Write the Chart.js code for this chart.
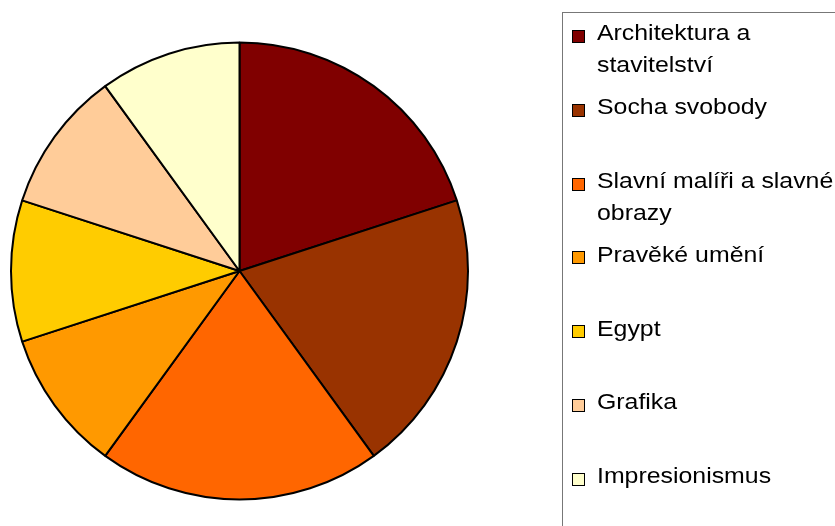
<!DOCTYPE html>
<html>
<head>
<meta charset="utf-8">
<script src="https://cdn.jsdelivr.net/npm/chart.js@4/dist/chart.umd.min.js"></script>
<style>
  html, body { margin: 0; padding: 0; background: #fff; }
  #wrap { position: relative; width: 835px; height: 526px; overflow: hidden; }
  #c { position: absolute; left: 0; top: 0; }
  #legend {
    position: absolute; left: 562px; top: 12px; width: 300px; height: 540px;
    border: 1px solid #777; box-sizing: border-box;
    font-family: "Liberation Sans", Arial, sans-serif; font-size: 22px; color: #000;
  }
  .item { position: absolute; left: 9px; width: 280px; line-height: 32px; }
  .sw { position: absolute; left: 0; top: 12.6px; width: 13px; height: 13px; border: 1px solid #000; box-sizing: border-box; }
  .tx { position: absolute; left: 25px; top: 0; width: 230px; white-space: nowrap; transform: scaleX(1.13); transform-origin: 0 0; }
</style>
</head>
<body>
<div id="wrap">
  <canvas id="c" width="835" height="526"></canvas>
  <div id="legend"></div>
</div>
<script>
const categories = [
  "Architektura a stavitelství",
  "Socha svobody",
  "Slavní malíři a slavné obrazy",
  "Pravěké umění",
  "Egypt",
  "Grafika",
  "Impresionismus"
];
const legendLines = [
  ["Architektura a", "stavitelství"],
  ["Socha svobody"],
  ["Slavní malíři a slavné", "obrazy"],
  ["Pravěké umění"],
  ["Egypt"],
  ["Grafika"],
  ["Impresionismus"]
];
const values = [20, 20, 20, 10, 10, 10, 10];
const colors = ["#800000", "#993300", "#FF6600", "#FF9900", "#FFCC00", "#FFCC99", "#FFFFCC"];

new Chart(document.getElementById('c'), {
  type: 'pie',
  data: {
    labels: categories,
    datasets: [{
      data: values,
      backgroundColor: colors,
      borderColor: '#000',
      borderWidth: 2
    }]
  },
  options: {
    responsive: false,
    animation: false,
    layout: { padding: { left: 10, top: 41, right: 366, bottom: 25 } },
    plugins: { legend: { display: false }, tooltip: { enabled: false } }
  }
});

const leg = document.getElementById('legend');
const slot = 73.8;
categories.forEach((name, i) => {
  const it = document.createElement('div');
  it.className = 'item';
  it.style.top = (4.4 + i * slot) + 'px';
  const sw = document.createElement('div');
  sw.className = 'sw';
  sw.style.background = colors[i];
  const tx = document.createElement('div');
  tx.className = 'tx';
  tx.innerHTML = legendLines[i].join('<br>');
  it.appendChild(sw); it.appendChild(tx);
  leg.appendChild(it);
});
</script>
</body>
</html>
